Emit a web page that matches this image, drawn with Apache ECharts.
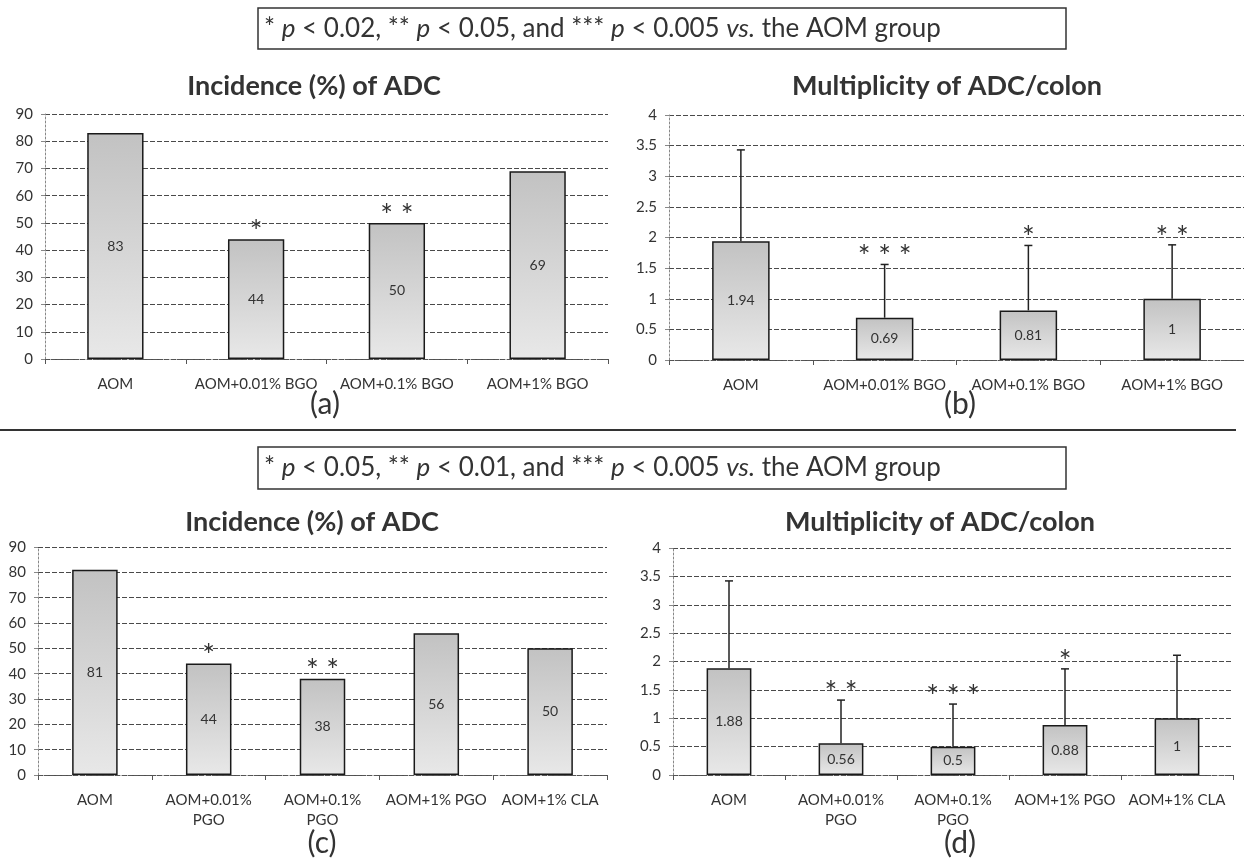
<!DOCTYPE html>
<html>
<head>
<meta charset="utf-8">
<script src="https://cdn.jsdelivr.net/npm/echarts@6/dist/echarts.min.js"></script>
<style>
  html, body { margin: 0; padding: 0; background: #fff; }
  #chart { width: 1244px; height: 858px; }
</style>
</head>
<body>
<div id="chart"></div>
<script>
// panel (a): incidence, BGO groups
const catsA = ['AOM', 'AOM+0.01% BGO', 'AOM+0.1% BGO', 'AOM+1% BGO'];
const incA = [83, 44, 50, 69];
const starsA = ['', '*', '* *', ''];

// panel (b): multiplicity, BGO groups
const catsB = ['AOM', 'AOM+0.01% BGO', 'AOM+0.1% BGO', 'AOM+1% BGO'];
const multB = [1.94, 0.69, 0.81, 1];
const sdB = [1.49, 0.87, 1.06, 0.88];
const starsB = ['', '* * *', '*', '* *'];

// panel (c): incidence, PGO / CLA groups
const catsC = ['AOM', 'AOM+0.01%\nPGO', 'AOM+0.1%\nPGO', 'AOM+1% PGO', 'AOM+1% CLA'];
const incC = [81, 44, 38, 56, 50];
const starsC = ['', '*', '* *', '', ''];

// panel (d): multiplicity, PGO / CLA groups
const catsD = ['AOM', 'AOM+0.01%\nPGO', 'AOM+0.1%\nPGO', 'AOM+1% PGO', 'AOM+1% CLA'];
const multD = [1.88, 0.56, 0.5, 0.88, 1];
const sdD = [1.54, 0.76, 0.75, 0.99, 1.11];
const starsD = ['', '* *', '* * *', '*', ''];

const legendTop = '* {i|p} < 0.02, ** {i|p} < 0.05, and *** {i|p} < 0.005 {i|vs.} the AOM group';
const legendBottom = '* {i|p} < 0.05, ** {i|p} < 0.01, and *** {i|p} < 0.005 {i|vs.} the AOM group';

const FONT = 'Lato, "Open Sans", sans-serif';
const TXT = '#333';

const chart = echarts.init(document.getElementById('chart'));

const barFill = new echarts.graphic.LinearGradient(0, 0, 0, 1, [
  { offset: 0, color: '#c2c2c2' },
  { offset: 1, color: '#e8e8e8' }
]);

function xAx(gridIndex, cats) {
  return {
    type: 'category', gridIndex, data: cats,
    axisLine: { lineStyle: { color: '#555', type: [4, 2] } },
    axisTick: { show: true, length: 5, lineStyle: { color: '#555' } },
    axisLabel: { color: TXT, fontSize: 15, fontFamily: FONT, margin: 15, lineHeight: 20, interval: 0 }
  };
}

function yAx(gridIndex, max, step) {
  return {
    type: 'value', gridIndex, min: 0, max, interval: step,
    axisLine: { show: true, lineStyle: { color: '#888', type: [2, 2] } },
    axisTick: { show: true, length: 4, lineStyle: { color: '#888' } },
    axisLabel: { color: TXT, fontSize: 15, fontFamily: FONT, margin: 12 },
    splitLine: { lineStyle: { color: '#4a4a4a', type: [5, 2] } }
  };
}

function bars(idx, vals) {
  return {
    type: 'bar', xAxisIndex: idx, yAxisIndex: idx, data: vals, barWidth: '40%',
    itemStyle: { color: barFill, borderColor: '#1a1a1a', borderWidth: 1.5 },
    label: { show: true, position: 'inside', color: TXT, fontSize: 14, fontFamily: FONT },
    z: 2
  };
}

function errors(idx, vals, sds) {
  return {
    type: 'custom', xAxisIndex: idx, yAxisIndex: idx,
    data: vals.map((v, i) => [i, v, sds[i]]),
    renderItem: (params, api) => {
      const base = api.coord([api.value(0), api.value(1)]);
      const top = api.coord([api.value(0), api.value(1) + api.value(2)]);
      const st = { stroke: '#222', lineWidth: 1.5 };
      return {
        type: 'group',
        children: [
          { type: 'line', shape: { x1: base[0], y1: base[1], x2: top[0], y2: top[1] }, style: st },
          { type: 'line', shape: { x1: top[0] - 4, y1: top[1], x2: top[0] + 4, y2: top[1] }, style: st }
        ]
      };
    },
    z: 3
  };
}

// asterisks sit just above the bar (a, c) or above the error bar (b, d)
function stars(idx, tops, marks) {
  return {
    type: 'custom', xAxisIndex: idx, yAxisIndex: idx,
    data: tops.map((v, i) => [i, v]),
    renderItem: (params, api) => {
      const p = api.coord([api.value(0), api.value(1)]);
      return {
        type: 'text', x: p[0], y: p[1] + 8,
        style: {
          text: marks[params.dataIndex], fill: TXT,
          font: '30px ' + FONT,
          align: 'center', verticalAlign: 'bottom',
          textAlign: 'center', textVerticalAlign: 'bottom'
        }
      };
    },
    z: 4
  };
}

function label(text, x, y, font) {
  return {
    type: 'text', x, y,
    style: { text, font, fill: TXT, align: 'center', verticalAlign: 'middle',
      textAlign: 'center', textVerticalAlign: 'middle' }
  };
}

function noteBox(y, h, text) {
  return [
    { type: 'rect', shape: { x: 258, y, width: 808, height: h },
      style: { fill: '#fff', stroke: '#333', lineWidth: 1.5 } },
    { type: 'text', x: 264, y: y + h / 2,
      style: {
        text, fill: TXT, fontSize: 26, fontFamily: FONT,
        verticalAlign: 'middle', textVerticalAlign: 'middle',
        rich: { i: { fontStyle: 'italic', fontSize: 26, fontFamily: FONT, fill: TXT, color: TXT } }
      } }
  ];
}

const option = {
  backgroundColor: '#fff',
  animation: false,
  grid: [
    { left: 45, top: 114, width: 563, height: 245 },
    { left: 669, top: 115, width: 584, height: 245 },
    { left: 38, top: 547, width: 569, height: 228 },
    { left: 673, top: 548, width: 560, height: 227 }
  ],
  xAxis: [xAx(0, catsA), xAx(1, catsB), xAx(2, catsC), xAx(3, catsD)],
  yAxis: [yAx(0, 90, 10), yAx(1, 4, 0.5), yAx(2, 90, 10), yAx(3, 4, 0.5)],
  series: [
    bars(0, incA),
    stars(0, incA, starsA),
    bars(1, multB),
    errors(1, multB, sdB),
    stars(1, multB.map((v, i) => v + sdB[i]), starsB),
    bars(2, incC),
    stars(2, incC, starsC),
    bars(3, multD),
    errors(3, multD, sdD),
    stars(3, multD.map((v, i) => v + sdD[i]), starsD)
  ],
  graphic: [
    ...noteBox(8, 41, legendTop),
    ...noteBox(447, 42, legendBottom),
    { type: 'line', shape: { x1: 0, y1: 430, x2: 1236, y2: 430 },
      style: { stroke: '#333', lineWidth: 2 } },
    label('Incidence (%) of ADC', 314, 86, 'bold 27px ' + FONT),
    label('Multiplicity of ADC/colon', 947, 86, 'bold 27px ' + FONT),
    label('Incidence (%) of ADC', 312, 522, 'bold 27px ' + FONT),
    label('Multiplicity of ADC/colon', 940, 522, 'bold 27px ' + FONT),
    label('(a)', 325, 404, '30px ' + FONT),
    label('(b)', 960, 404, '30px ' + FONT),
    label('(c)', 322, 843, '30px ' + FONT),
    label('(d)', 960, 843, '30px ' + FONT)
  ]
};

chart.setOption(option);
</script>
</body>
</html>
